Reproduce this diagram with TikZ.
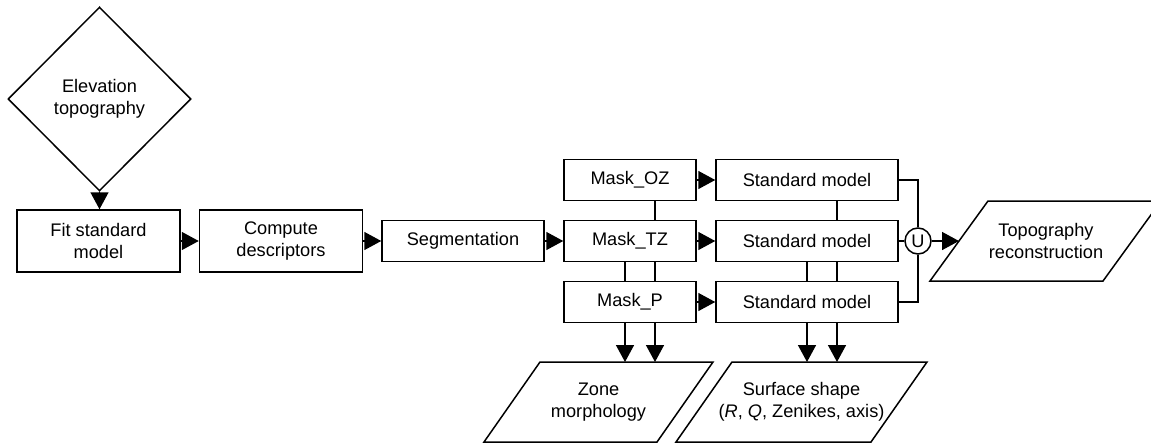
\documentclass[tikz,border=0pt]{standalone}
\usepackage{fontspec}
\setmainfont{Liberation Sans}
\usetikzlibrary{shapes.geometric,arrows.meta,calc}
\tikzset{
  base/.style={draw=black, line width=1.5pt, inner sep=0pt, align=center, font=\fontsize{18.2}{21.7}\selectfont},
  procbox/.style={base, shape=rectangle, minimum width=163pt, minimum height=62pt},
  smallbox/.style={base, shape=rectangle, minimum height=41pt},
  decide/.style={base, shape=diamond, minimum width=183pt, minimum height=184pt},
  iotext/.style={inner sep=0pt, align=center, font=\fontsize{18.2}{21.7}\selectfont},
  unionc/.style={base, shape=circle, minimum size=26pt},
  link/.style={line width=1.5pt, line join=miter},
  arr/.style={line width=1.5pt, -{Triangle[length=17pt,width=18pt]}}
}
\begin{document}
\begin{tikzpicture}[x=1pt,y=-1pt]
\useasboundingbox (0,0) rectangle (1151,444);
\node[decide] (elev) at (99.5,99) {Elevation\\topography};
\node[procbox] (fit) at (98.5,241) {Fit standard\\model};
\node[procbox] (comp) at (281,241) {Compute\\descriptors};
\node[smallbox, minimum width=162pt] (seg) at (463,241) {Segmentation};
\node[smallbox, minimum width=132pt] (oz) at (630,180) {Mask\_OZ};
\node[smallbox, minimum width=132pt] (tz) at (630,241) {Mask\_TZ};
\node[smallbox, minimum width=132pt] (mp) at (630,302) {Mask\_P};
\node[smallbox, minimum width=182pt] (soz) at (807,180) {Standard model};
\node[smallbox, minimum width=182pt] (stz) at (807,241) {Standard model};
\node[smallbox, minimum width=182pt] (sp) at (807,302) {Standard model};
\node[unionc] (u) at (918,241) {U};

% output parallelograms
\draw[link] (930,281) -- (988,201) -- (1161,201) -- (1103,281) -- cycle;
\node[iotext] (topo) at (1046,241) {Topography\\reconstruction};
\coordinate (topoin) at (959,241);
\draw[link] (484,442) -- (540,362) -- (713,362) -- (657,442) -- cycle;
\node[iotext] (zone) at (598.5,402) {Zone\\morphology};
\draw[link] (676,442) -- (732,362) -- (927,362) -- (871,442) -- cycle;
\node[iotext] (surf) at (801.5,402) {Surface shape\\(\textit{R}, \textit{Q}, Zenikes, axis)};
\coordinate (outtop) at (0,362);

\draw[arr] (elev.south) -- (fit.north -| elev.south);
\draw[arr] (fit.east) -- (comp.west);
\draw[arr] (comp.east) -- (seg.west);
\draw[arr] (seg.east) -- (tz.west);
\draw[arr] (oz.east) -- (soz.west);
\draw[arr] (tz.east) -- (stz.west);
\draw[arr] (mp.east) -- (sp.west);

\draw[link] ([xshift=25pt]oz.south) -- ([xshift=25pt]tz.north);
\draw[link] ([xshift=-5pt]tz.south) -- ([xshift=-5pt]mp.north);
\draw[link] ([xshift=25pt]tz.south) -- ([xshift=25pt]mp.north);
\draw[link] ([xshift=30pt]soz.south) -- ([xshift=30pt]stz.north);
\draw[link] (stz.south) -- (sp.north);
\draw[link] ([xshift=30pt]stz.south) -- ([xshift=30pt]sp.north);

\draw[arr] ([xshift=-5pt]mp.south) -- ([xshift=-5pt]mp.south |- outtop);
\draw[arr] ([xshift=25pt]mp.south) -- ([xshift=25pt]mp.south |- outtop);
\draw[arr] (sp.south) -- (sp.south |- outtop);
\draw[arr] ([xshift=30pt]sp.south) -- ([xshift=30pt]sp.south |- outtop);

\draw[link] (soz.east) -| (u.north);
\draw[link] (sp.east) -| (u.south);
\draw[link] (stz.east) -- (u.west);
\draw[arr] (u.east) -- (topoin);
\end{tikzpicture}
\end{document}
